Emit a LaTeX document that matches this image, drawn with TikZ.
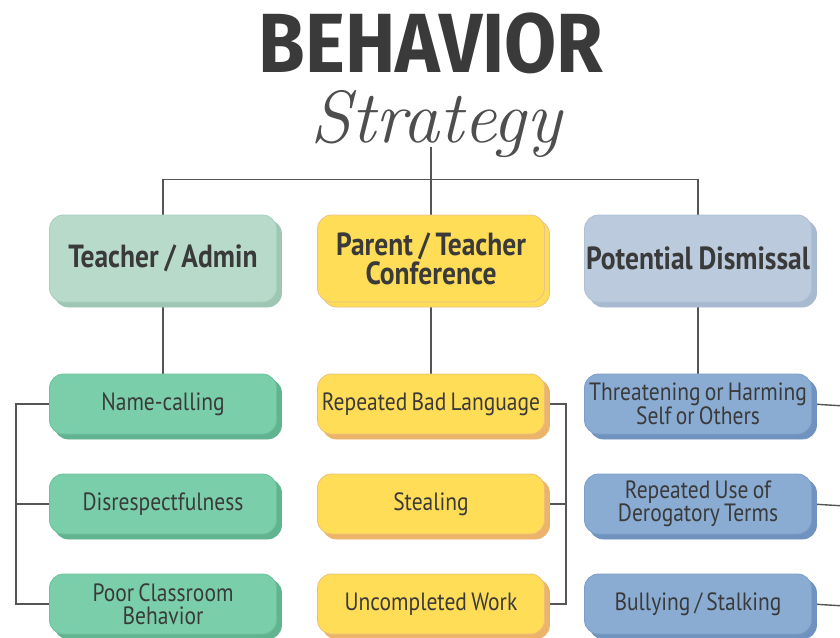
\documentclass[tikz,border=0pt]{standalone}
\usepackage{fontspec}
\newfontfamily\boxfont[FakeStretch=0.86]{PT Sans}
\newfontfamily\titlefont[FakeStretch=0.9]{Fira Sans}
\newcommand\topfnt{\boxfont\bfseries\fontsize{32}{31}\selectfont\setlength{\spaceskip}{0.18em}}
\newcommand\childfnt{\boxfont\fontsize{25}{23.5}\selectfont\setlength{\spaceskip}{0.17em}}
\usetikzlibrary{shadows,backgrounds,calc}
\definecolor{txt}{HTML}{3A3A3A}
\definecolor{ln}{HTML}{555555}
\definecolor{tg}{HTML}{B8DACB}\definecolor{tgd}{HTML}{A9CFBE}\definecolor{tgs}{HTML}{9DC6B3}
\definecolor{ty}{HTML}{FFDD57}\definecolor{tyd}{HTML}{E6C28F}
\definecolor{tb}{HTML}{BBCADC}\definecolor{tbd}{HTML}{AFC0D4}\definecolor{tbs}{HTML}{A8BAD0}
\definecolor{cg}{HTML}{7ACFAA}\definecolor{cgd}{HTML}{6CC29D}\definecolor{cgs}{HTML}{62B38F}
\definecolor{cy}{HTML}{FFDD57}\definecolor{cyd}{HTML}{EDBE7A}\definecolor{cys}{HTML}{ECB46A}
\definecolor{cb}{HTML}{8AACD3}\definecolor{cbd}{HTML}{7C9FC8}\definecolor{cbs}{HTML}{6F93BE}
\tikzset{
  x=1pt, y=-1pt,
  box/.style={rounded corners=14pt, text=txt, align=center, inner sep=0pt, line width=0.8pt},
  topbox/.style={box, minimum width=227pt, minimum height=87pt, font=\topfnt},
  childbox/.style={box, minimum width=227pt, minimum height=60pt, font=\childfnt},
  sh/.style 2 args={copy shadow={shadow xshift=5pt, shadow yshift=-5pt, fill=#1, draw=#2}},
  topgreen/.style={topbox, fill=tg, draw=tgd, sh={tgs}{tgs}},
  topyellow/.style={topbox, fill=ty, draw=tyd, sh={ty}{tyd}},
  topblue/.style={topbox, fill=tb, draw=tbd, sh={tbs}{tbs}},
  childgreen/.style={childbox, fill=cg, draw=cgd, sh={cgs}{cgs}},
  childyellow/.style={childbox, fill=cy, draw=cyd, sh={cys}{cys}},
  childblue/.style={childbox, fill=cb, draw=cbd, sh={cbs}{cbs}},
  conn/.style={draw=ln, line width=1.4pt},
}
\begin{document}
\begin{tikzpicture}
\useasboundingbox (0,0) rectangle (840,637);
\clip (0,0) rectangle (840,637);
% title
\node[font=\titlefont\bfseries\fontsize{84}{84}\selectfont, text=txt, inner sep=0pt] (title) at (431,43) {BEHAVIOR};
\node[font=\itshape\fontsize{74}{74}\selectfont, text=txt!90, inner sep=0pt] (sub) at (436,124) {Strategy};
\coordinate (hubtop) at (431,147);
% top level
\node[topgreen] (t1) at (163,258.5) {Teacher / Admin};
\node[topyellow] (t2) at (431,258.5) {Parent / Teacher\\[-2pt]Conference};
\node[topblue] (t3) at (698,258.5) {Potential Dismissal};
% children
\node[childgreen] (g1) at (163,404) {Name-calling};
\node[childgreen] (g2) at (163,504) {Disrespectfulness};
\node[childgreen] (g3) at (163,604) {Poor Classroom\\Behavior};
\node[childyellow] (y1) at (431,404) {Repeated Bad Language};
\node[childyellow] (y2) at (431,504) {Stealing};
\node[childyellow] (y3) at (431,604) {Uncompleted Work};
\node[childblue] (b1) at (698,404) {Threatening or Harming\\Self or Others};
\node[childblue] (b2) at (698,504) {Repeated Use of\\Derogatory Terms};
\node[childblue] (b3) at (698,604) {Bullying / Stalking};
\coordinate (r1) at (845,406);
\coordinate (r2) at (845,506);
\coordinate (r3) at (845,606);
\begin{pgfonlayer}{background}
  \draw[conn] (t1.north) -- ++(0,-35) -| (t3.north);
  \draw[conn] (hubtop) -- (t2.north);
  \draw[conn] (t1.south) -- (g1.north);
  \draw[conn] (t2.south) -- (y1.north);
  \draw[conn] (t3.south) -- (b1.north);
  \draw[conn] (g1.west) -- ++(-33,0) |- (g3.west);
  \draw[conn] (g2.west) -- ++(-33,0);
  \draw[conn] (y1.east) -- ++(21,0) |- (y3.east);
  \draw[conn] (y2.east) -- ++(21,0);
  \draw[conn] (b1.east) -- (r1);
  \draw[conn] (b2.east) -- (r2);
  \draw[conn] (b3.east) -- (r3);
\end{pgfonlayer}
\end{tikzpicture}
\end{document}
